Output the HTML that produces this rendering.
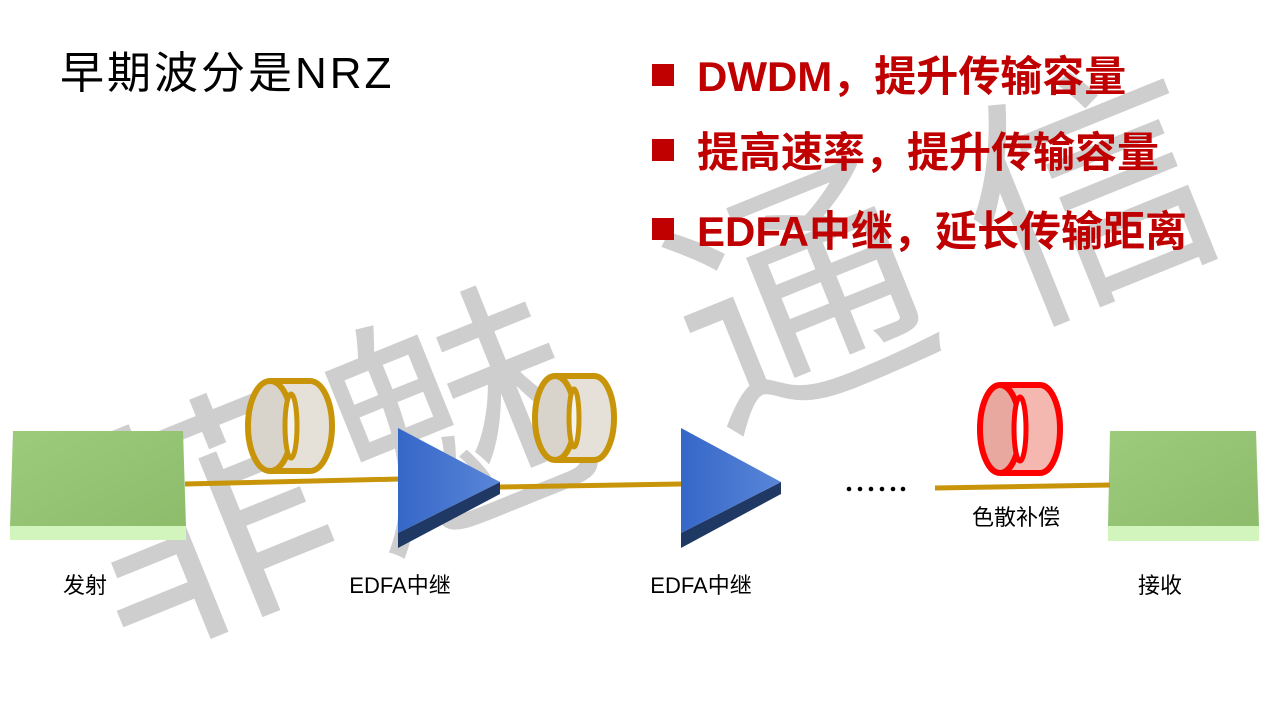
<!DOCTYPE html>
<html><head><meta charset="utf-8"><style>
html,body{margin:0;padding:0;background:#fff;}
svg{display:block}
</style></head><body>
<svg width="1280" height="720" viewBox="0 0 1280 720" xmlns="http://www.w3.org/2000/svg">
<defs>
<linearGradient id="tri" x1="0" y1="0" x2="1" y2="0"><stop offset="0" stop-color="#3567c8"/><stop offset="1" stop-color="#5a86d8"/></linearGradient>
<linearGradient id="grn" x1="0" y1="0" x2="1" y2="1"><stop offset="0" stop-color="#9ccb7c"/><stop offset="1" stop-color="#8dbd6b"/></linearGradient>
</defs>
<rect width="1280" height="720" fill="#fff"/>
<!-- watermark -->
<g fill="#bdbdbd" fill-opacity="0.75" font-family="'Liberation Sans','Noto Sans CJK SC',sans-serif" font-size="250" text-anchor="middle">
<text transform="translate(205,525) rotate(-22)" dy="88">菲</text>
<text transform="translate(460,420) rotate(-22)" dy="88">魅</text>
<text transform="translate(800,300) rotate(-22)" dy="88">通</text>
<text transform="translate(1090,195) rotate(-22)" dy="88">信</text>
</g>
<!-- title -->
<text x="60" y="88" font-family="'Liberation Sans','Noto Sans CJK SC',sans-serif" font-size="44" letter-spacing="3" fill="#000">早期波分是NRZ</text>
<!-- bullets -->
<g fill="#c00000" font-family="'Liberation Sans','Noto Sans CJK SC',sans-serif" font-size="42" font-weight="bold">
<rect x="652" y="64" width="22" height="22"/>
<rect x="652" y="139" width="22" height="22"/>
<rect x="652" y="218" width="22" height="22"/>
<text x="697" y="91">DWDM，提升传输容量</text>
<text x="697" y="167">提高速率，提升传输容量</text>
<text x="697" y="246">EDFA中继，延长传输距离</text>
</g>
<!-- left box -->
<polygon points="13,431 183,431 186,526 10,526" fill="url(#grn)"/>
<polygon points="10,526 186,526 186,540 10,540" fill="#d2f5bd"/>
<!-- right box -->
<polygon points="1110,431 1256,431 1259,526 1108,526" fill="url(#grn)"/>
<polygon points="1108,526 1259,526 1259,541 1108,541" fill="#d2f5bd"/>
<!-- fibers -->
<g stroke="#c8950a" stroke-width="5">
<line x1="185" y1="484" x2="400" y2="479"/>
<line x1="500" y1="487" x2="681" y2="484"/>
<line x1="935" y1="488" x2="1110" y2="485"/>
</g>
<!-- coil 1 -->
<g stroke="#c8950a" stroke-width="6" fill="none">
<path d="M270,381 L310,381 A22,45 0 0 1 310,471 L270,471 Z" fill="#e6e1d8" stroke="none"/>
<path d="M270,381 L310,381 A22,45 0 0 1 310,471 L270,471"/>
<ellipse cx="270" cy="426" rx="22" ry="45" fill="#d8d4cc"/>
<ellipse cx="291" cy="426" rx="6" ry="32" fill="#f4f2ee" stroke-width="5"/>
</g>
<!-- coil 2 -->
<g stroke="#c8950a" stroke-width="6" fill="none">
<path d="M555,376 L594,376 A20,42 0 0 1 594,460 L555,460 Z" fill="#e6e1d8" stroke="none"/>
<path d="M555,376 L594,376 A20,42 0 0 1 594,460 L555,460"/>
<ellipse cx="555" cy="418" rx="20" ry="42" fill="#d8d4cc"/>
<ellipse cx="574" cy="418" rx="5" ry="29" fill="#f4f2ee" stroke-width="5"/>
</g>
<!-- red coil -->
<g stroke="#ff0000" stroke-width="6" fill="none">
<path d="M1000,385 L1040,385 A20,44 0 0 1 1040,473 L1000,473 Z" fill="#f4b8b0" stroke="none"/>
<path d="M1000,385 L1040,385 A20,44 0 0 1 1040,473 L1000,473"/>
<ellipse cx="1000" cy="429" rx="20" ry="44" fill="#e8a8a0"/>
<ellipse cx="1020" cy="429" rx="6" ry="32" fill="#fff" stroke-width="5"/>
</g>
<!-- triangles -->
<polygon points="398,533 500,482 500,494 398,548" fill="#1f3864"/>
<polygon points="398,428 500,482 398,533" fill="url(#tri)"/>
<polygon points="681,533 781,482 781,494 681,548" fill="#1f3864"/>
<polygon points="681,428 781,482 681,533" fill="url(#tri)"/>
<!-- dots -->
<g fill="#000"><circle cx="849" cy="489" r="2.3"/><circle cx="860" cy="489" r="2.3"/><circle cx="871" cy="489" r="2.3"/><circle cx="882" cy="489" r="2.3"/><circle cx="893" cy="489" r="2.3"/><circle cx="903" cy="489" r="2.3"/></g>
<!-- labels -->
<g font-family="'Liberation Sans','Noto Sans CJK SC',sans-serif" font-size="22" fill="#000" text-anchor="middle">
<text x="85" y="593">发射</text>
<text x="400" y="593">EDFA中继</text>
<text x="701" y="593">EDFA中继</text>
<text x="1016" y="525">色散补偿</text>
<text x="1160" y="593">接收</text>
</g>
</svg>
</body></html>
